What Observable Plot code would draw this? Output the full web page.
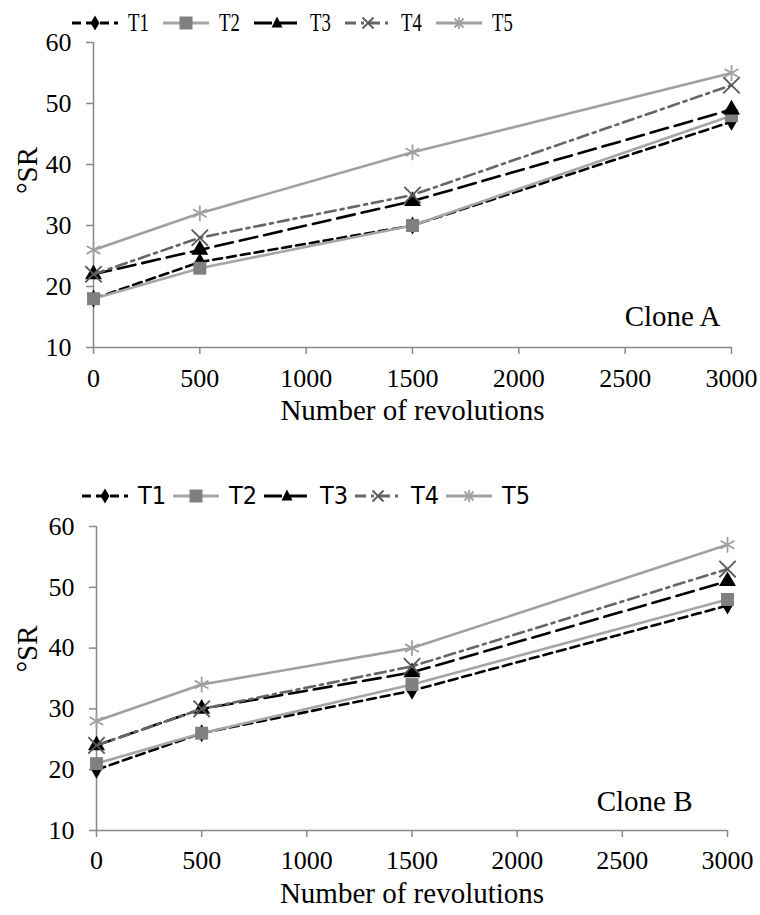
<!DOCTYPE html>
<html><head><meta charset="utf-8">
<script src="https://cdn.jsdelivr.net/npm/d3@7"></script>
<script src="https://cdn.jsdelivr.net/npm/@observablehq/plot@0.6"></script>
<style>
body{margin:0;background:#fff;width:760px;height:915px;overflow:hidden}
.panel{position:relative;width:760px}
.panel svg.chart{display:block}
.legend{position:absolute;display:flex;align-items:center;color:#000}
.item{display:flex;align-items:center;width:91px;height:30px}
.item svg{overflow:visible;margin-right:10px}
.item span{display:inline-block;transform-origin:left center;line-height:30px}
.legend.serif{font-family:"Liberation Serif","Times New Roman",serif;font-size:26px}
.legend.serif span{transform:scaleX(0.72)}
.legend.sans{font-family:"Liberation Sans Narrow","DejaVu Sans Condensed","Liberation Sans",sans-serif;font-size:25px}
</style></head><body>
<div id="A" class="panel"></div>
<div id="B" class="panel"></div>
<script>
// ---- data ----
const revolutions = [0, 500, 1500, 3000];
const seriesNames = ["T1", "T2", "T3", "T4", "T5"];
const yTicks = [10, 20, 30, 40, 50, 60];
const xTicks = [0, 500, 1000, 1500, 2000, 2500, 3000];

const cloneA_T1 = [18, 24, 30, 47];
const cloneA_T2 = [18, 23, 30, 48];
const cloneA_T3 = [22, 26, 34, 49];
const cloneA_T4 = [22, 28, 35, 53];
const cloneA_T5 = [26, 32, 42, 55];

const cloneB_T1 = [20, 26, 33, 47];
const cloneB_T2 = [21, 26, 34, 48];
const cloneB_T3 = [24, 30, 36, 51];
const cloneB_T4 = [24, 30, 37, 53];
const cloneB_T5 = [28, 34, 40, 57];

const cloneLabels = ["Clone A", "Clone B"];
const xTitle = "Number of revolutions";
const yTitle = "°SR";

// ---- styles ----
const seriesStyle = {
  T1: {stroke: "#000", dash: "9,5", symbol: "diamond", fill: "#000", r: 5.5, legendPath: "M0,-7.5L4.5,0L0,7.5L-4.5,0Z"},
  T2: {stroke: "#a6a6a6", dash: null, symbol: "square", fill: "#808080", r: 7.3, legendPath: "M-6.5,-6.5h13v13h-13z"},
  T3: {stroke: "#000", dash: "18,7", symbol: "triangle", fill: "#000", r: 6.3, legendPath: "M0,-6.5L5.5,4.5L-5.5,4.5Z"},
  T4: {stroke: "#666", dash: "11,5,3,5", symbol: "times", fill: null, mstroke: "#595959", r: 7.5, legendPath: "M-5.5,-5.5L5.5,5.5M-5.5,5.5L5.5,-5.5"},
  T5: {stroke: "#a0a0a0", dash: null, symbol: "asterisk", fill: null, mstroke: "#a0a0a0", r: 7.5, legendPath: "M-6,0H6M0,-6V6M-4.5,-4.5L4.5,4.5M-4.5,4.5L4.5,-4.5"}
};

function rowsFor(values) {
  const rows = [];
  seriesNames.forEach((s, k) => {
    values[k].forEach((v, i) => rows.push({x: revolutions[i], y: v, series: s}));
  });
  return rows;
}

function legend(cls, top, left) {
  const div = document.createElement("div");
  div.className = "legend " + cls;
  div.style.top = top + "px";
  div.style.left = left + "px";
  seriesNames.forEach(s => {
    const st = seriesStyle[s];
    const item = document.createElement("div");
    item.className = "item";
    const ns = "http://www.w3.org/2000/svg";
    const svg = document.createElementNS(ns, "svg");
    svg.setAttribute("width", 46); svg.setAttribute("height", 20);
    const ln = document.createElementNS(ns, "line");
    ln.setAttribute("x1", 0); ln.setAttribute("x2", 46);
    ln.setAttribute("y1", 10); ln.setAttribute("y2", 10);
    ln.setAttribute("stroke", st.stroke); ln.setAttribute("stroke-width", 3);
    if (st.dash) ln.setAttribute("stroke-dasharray", st.dash);
    svg.appendChild(ln);
    const p = document.createElementNS(ns, "path");
    p.setAttribute("d", st.legendPath);
    p.setAttribute("transform", "translate(23,10)");
    if (st.fill) { p.setAttribute("fill", st.fill); }
    else { p.setAttribute("fill", "none"); p.setAttribute("stroke", st.mstroke); p.setAttribute("stroke-width", 1.8); }
    svg.appendChild(p);
    item.appendChild(svg);
    const t = document.createElement("span");
    t.textContent = s;
    item.appendChild(t);
    div.appendChild(item);
  });
  return div;
}

function panel(values, label, cfg) {
  const rows = rowsFor(values);
  const fmt = d3.format("d");
  const marks = [
    Plot.ruleX([revolutions[0]], {stroke: "#888", strokeWidth: 1.5}),
    Plot.ruleY([yTicks[0]], {stroke: "#888", strokeWidth: 1.5}),
    Plot.axisY({ticks: yTicks, tickFormat: fmt, tickSize: 7, tickPadding: cfg.yPad, stroke: "#888", strokeWidth: 1.5, label: null}),
    Plot.axisX({ticks: xTicks, tickFormat: fmt, tickSize: 7, tickPadding: cfg.xPad, stroke: "#888", strokeWidth: 1.5, label: null})
  ];
  seriesNames.forEach(s => {
    const st = seriesStyle[s];
    const data = rows.filter(d => d.series === s);
    marks.push(Plot.line(data, {x: "x", y: "y", stroke: st.stroke, strokeWidth: 2.6, strokeDasharray: st.dash ?? undefined}));
    if (st.fill) {
      marks.push(Plot.dot(data, {x: "x", y: "y", symbol: st.symbol, r: st.r, fill: st.fill, stroke: "none"}));
    } else {
      marks.push(Plot.dot(data, {x: "x", y: "y", symbol: st.symbol, r: st.r, fill: "none", stroke: st.mstroke, strokeWidth: 1.8}));
    }
  });
  marks.push(Plot.text([label], {frameAnchor: "bottom-right", textAnchor: "end", lineAnchor: "bottom", dx: cfg.cdx, dy: cfg.cdy, fontSize: 29}));
  marks.push(Plot.text([xTitle], {frameAnchor: "bottom", dy: 72, fontSize: 29}));
  marks.push(Plot.text([yTitle], {frameAnchor: "left", rotate: -90, dx: cfg.ydx, dy: cfg.ydy, fontSize: 29}));
  const chart = Plot.plot({
    width: 760, height: cfg.height,
    marginLeft: cfg.ml, marginRight: cfg.mr, marginTop: cfg.mt, marginBottom: cfg.mb,
    x: {domain: [xTicks[0], xTicks[xTicks.length - 1]], label: null},
    y: {domain: [yTicks[0], yTicks[yTicks.length - 1]], label: null},
    style: {fontFamily: "Liberation Serif, Times New Roman, serif", fontSize: "26px", color: "#000", background: "transparent", overflow: "visible"},
    marks
  });
  chart.classList.add("chart");
  return chart;
}

const A = document.getElementById("A");
A.appendChild(panel([cloneA_T1, cloneA_T2, cloneA_T3, cloneA_T4, cloneA_T5], cloneLabels[0],
  {height: 455, ml: 93, mr: 29, mt: 42, mb: 108, yPad: 15, xPad: 14, cdx: -11, cdy: -22, ydx: -66, ydy: -1}));
A.appendChild(legend("serif", 8, 72));

const B = document.getElementById("B");
B.appendChild(panel([cloneB_T1, cloneB_T2, cloneB_T3, cloneB_T4, cloneB_T5], cloneLabels[1],
  {height: 460, ml: 96, mr: 33, mt: 71, mb: 85, yPad: 15, xPad: 13, cdx: -35, cdy: -20, ydx: -69, ydy: -6}));
B.appendChild(legend("sans", 26, 82));
</script>
</body></html>
